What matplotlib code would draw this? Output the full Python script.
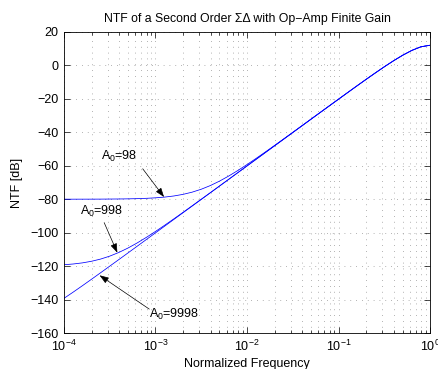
import numpy as np
import matplotlib
matplotlib.use("Agg")
import matplotlib.pyplot as plt

plt.rcParams['font.family'] = ['Liberation Sans', 'DejaVu Sans']
plt.rcParams['mathtext.fontset'] = 'custom'
plt.rcParams['mathtext.rm'] = 'Liberation Sans'
plt.rcParams['mathtext.it'] = 'Liberation Sans'

# normalized frequency grid (0.1 decade steps from 1e-4 to 1)
freq = np.logspace(-4, 0, 41)

# NTF in dB
ntf_a98 = [-79.99, -79.99, -79.98, -79.97, -79.95, -79.91, -79.87, -79.79,
           -79.67, -79.48, -79.18, -78.74, -78.08, -77.12, -75.80, -74.04,
           -71.83, -69.18, -66.15, -62.83, -59.28, -55.58, -51.78, -47.90,
           -43.98, -40.03, -36.08, -32.10, -28.12, -24.15, -20.19, -16.23,
           -12.29, -8.40, -4.57, -0.83, 2.74, 6.05, 8.94, 11.12, 12.04]

ntf_a998 = [-119.18, -118.74, -118.08, -117.12, -115.80, -114.04, -111.83, -109.18,
            -106.15, -102.83, -99.28, -95.58, -91.78, -87.90, -83.98, -80.03,
            -76.08, -72.09, -68.10, -64.11, -60.11, -56.12, -52.12, -48.12,
            -44.13, -40.13, -36.13, -32.13, -28.14, -24.16, -20.19, -16.23,
            -12.29, -8.40, -4.57, -0.83, 2.74, 6.05, 8.94, 11.12, 12.04]

ntf_a9998 = [-139.28, -135.58, -131.78, -127.90, -123.98, -120.03, -116.08, -112.10,
             -108.11, -104.11, -100.12, -96.12, -92.12, -88.12, -84.12, -80.12,
             -76.12, -72.12, -68.12, -64.12, -60.12, -56.12, -52.12, -48.12,
             -44.13, -40.13, -36.13, -32.13, -28.14, -24.16, -20.19, -16.23,
             -12.29, -8.40, -4.57, -0.83, 2.74, 6.05, 8.94, 11.12, 12.04]

# annotations: label, text position, arrow tail, arrow head
notes = [
    ("$\\mathregular{A_0}$=98", (4.0e-4, -54.5), (7.25e-4, -61.8), (1.24e-3, -78.7)),
    ("$\\mathregular{A_0}$=998", (2.55e-4, -87.3), (2.75e-4, -94.0), (3.83e-4, -112.0)),
    ("$\\mathregular{A_0}$=9998", (1.58e-3, -148.7), (8.55e-4, -145.7), (2.45e-4, -125.5)),
]

fig = plt.figure(figsize=(4.38, 3.69), dpi=100)
ax = fig.add_axes([0.146, 0.0975, 0.836, 0.816])

for y in [ntf_a98, ntf_a998, ntf_a9998]:
    ax.semilogx(freq, y, color='b', lw=0.55)

ax.set_xlim(1e-4, 1)
ax.set_ylim(-160, 20)
ax.set_yticks(np.arange(-160, 21, 20))

grid_style = dict(ls=(0, (1, 6)), color='0.6', lw=0.6)
ax.grid(True, which='major', axis='both', **grid_style)
ax.grid(True, which='minor', axis='x', **grid_style)

ax.tick_params(which='both', direction='in', top=True, right=True, labelsize=9, pad=4)
ax.tick_params(which='major', length=4, width=0.5)
ax.tick_params(which='minor', length=2, width=0.5)
for s in ax.spines.values():
    s.set_linewidth(0.6)

for label, txt, tail, head in notes:
    ax.text(txt[0], txt[1], label, fontsize=9, ha='center', va='center')
    ax.annotate('', xy=head, xytext=tail,
                arrowprops=dict(arrowstyle='-|>,head_length=0.7,head_width=0.25',
                                color='k', lw=0.5, mutation_scale=8,
                                shrinkA=0, shrinkB=0))

ax.set_title("NTF of a Second Order \u03a3\u0394 with Op\u2212Amp Finite Gain", fontsize=8.8, pad=7)
ax.set_xlabel("Normalized Frequency", fontsize=9, labelpad=3)
ax.set_ylabel("NTF [dB]", fontsize=9, labelpad=5)

fig.savefig("out.png", dpi=100)
